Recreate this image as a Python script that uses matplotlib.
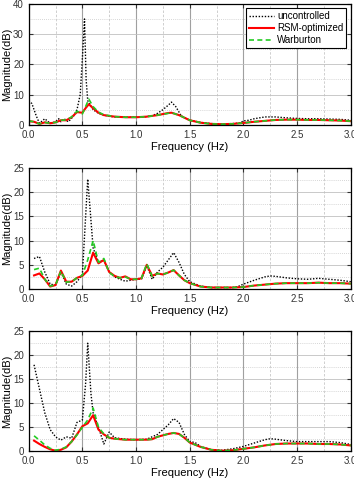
import numpy as np
import matplotlib
matplotlib.use("Agg")
import matplotlib.pyplot as plt
from matplotlib.ticker import MultipleLocator

plt.rcParams['font.family'] = ['Liberation Sans', 'DejaVu Sans']

# panel 1
f1_unc = [0.0, 0.03, 0.07, 0.1, 0.15, 0.2, 0.25, 0.28, 0.3, 0.33, 0.37, 0.42, 0.45, 0.48, 0.505, 0.52, 0.535,
          0.55, 0.6, 0.65, 0.7, 0.75, 0.8, 0.9, 1.0, 1.1, 1.15, 1.2, 1.25, 1.3, 1.33, 1.37, 1.42, 1.5, 1.55,
          1.6, 1.7, 1.8, 1.9, 1.97, 2.0, 2.05, 2.1, 2.2, 2.3, 2.4, 2.5, 2.6, 2.7, 2.8, 2.9, 3.0]
m1_unc = [8.0, 7.0, 3.0, 0.5, 2.0, 0.5, 1.0, 2.0, 1.0, 2.0, 1.0, 3.0, 5.0, 10.0, 25.0, 35.0, 15.0,
          8.0, 5.0, 3.8, 3.2, 2.8, 2.6, 2.5, 2.5, 2.7, 3.0, 3.8, 5.0, 6.5, 7.5, 6.0, 3.0, 1.5, 1.2,
          0.8, 0.4, 0.3, 0.4, 0.6, 1.3, 1.5, 2.0, 2.6, 2.6, 2.3, 2.1, 2.0, 2.0, 1.9, 1.8, 1.5]
f1 = [0.0, 0.05, 0.1, 0.15, 0.2, 0.25, 0.3, 0.35, 0.4, 0.45, 0.5, 0.53, 0.56, 0.6, 0.65, 0.7, 0.8, 0.9,
      1.0, 1.1, 1.2, 1.3, 1.33, 1.4, 1.5, 1.6, 1.7, 1.8, 1.9, 2.0, 2.1, 2.2, 2.3, 2.4, 2.5, 2.6, 2.7,
      2.8, 2.9, 3.0]
m1_rsm = [1.2, 1.0, 0.3, 0.8, 0.5, 0.8, 1.5, 1.5, 2.5, 4.2, 4.0, 5.5, 6.8, 5.5, 4.0, 3.2, 2.7, 2.5,
          2.5, 2.7, 3.2, 3.9, 4.0, 3.2, 1.5, 0.7, 0.3, 0.2, 0.3, 0.6, 1.0, 1.3, 1.6, 1.7, 1.7, 1.6, 1.6,
          1.5, 1.4, 1.2]
m1_war = [1.3, 1.0, 0.3, 0.8, 0.5, 0.8, 1.5, 1.6, 2.6, 4.5, 3.6, 6.0, 8.5, 6.0, 4.2, 3.3, 2.7, 2.5,
          2.5, 2.7, 3.2, 3.8, 4.0, 3.2, 1.5, 0.7, 0.3, 0.2, 0.3, 0.6, 1.0, 1.3, 1.6, 1.7, 1.7, 1.6, 1.6,
          1.5, 1.4, 1.2]

# panel 2
f2_unc = [0.05, 0.1, 0.15, 0.2, 0.25, 0.3, 0.35, 0.4, 0.45, 0.5, 0.55, 0.6, 0.65, 0.7, 0.75, 0.8, 0.85,
          0.9, 0.95, 1.0, 1.05, 1.1, 1.15, 1.2, 1.25, 1.3, 1.35, 1.4, 1.45, 1.5, 1.6, 1.7, 1.8, 1.9, 1.95,
          2.0, 2.1, 2.2, 2.25, 2.3, 2.4, 2.5, 2.6, 2.7, 2.8, 2.9, 3.0]
m2_unc = [6.3, 6.7, 3.5, 1.0, 0.8, 3.5, 1.0, 0.6, 1.5, 3.0, 22.7, 8.5, 5.5, 6.0, 3.5, 2.5, 2.0,
          1.6, 1.8, 2.0, 2.0, 4.8, 2.0, 3.5, 4.5, 6.0, 7.5, 5.5, 3.0, 1.5, 0.6, 0.3, 0.3, 0.3, 0.5,
          1.0, 1.8, 2.5, 2.7, 2.6, 2.3, 2.1, 2.0, 2.2, 2.0, 1.8, 1.5]
f2 = [0.05, 0.1, 0.15, 0.2, 0.25, 0.3, 0.35, 0.4, 0.45, 0.5, 0.55, 0.6, 0.65, 0.7, 0.75, 0.8, 0.85,
      0.9, 0.95, 1.0, 1.05, 1.1, 1.15, 1.2, 1.25, 1.3, 1.35, 1.4, 1.45, 1.5, 1.6, 1.7, 1.8, 1.9, 2.0,
      2.1, 2.2, 2.3, 2.4, 2.5, 2.6, 2.7, 2.8, 2.9, 3.0]
m2_rsm = [2.8, 3.2, 2.0, 0.5, 0.8, 3.8, 1.5, 1.5, 2.3, 2.7, 3.8, 7.5, 5.3, 6.0, 3.5, 2.7, 2.3,
          2.6, 2.0, 2.0, 2.2, 5.0, 2.7, 3.2, 3.0, 3.4, 3.9, 2.8, 1.8, 1.2, 0.5, 0.3, 0.3, 0.3, 0.4,
          0.7, 0.9, 1.1, 1.2, 1.2, 1.2, 1.3, 1.2, 1.2, 1.1]
m2_war = [4.0, 4.3, 2.0, 0.6, 0.8, 3.7, 1.4, 1.5, 2.3, 2.8, 6.0, 10.0, 5.5, 6.3, 3.4, 2.6, 2.3,
          2.5, 2.0, 2.0, 2.2, 5.2, 2.6, 3.2, 3.0, 3.4, 3.9, 2.8, 1.8, 1.2, 0.5, 0.3, 0.3, 0.3, 0.4,
          0.7, 0.9, 1.1, 1.2, 1.2, 1.2, 1.3, 1.2, 1.2, 1.1]

# panel 3
f3_unc = [0.05, 0.1, 0.15, 0.2, 0.25, 0.3, 0.35, 0.4, 0.45, 0.5, 0.53, 0.55, 0.58, 0.6, 0.65, 0.7, 0.75,
          0.8, 0.9, 1.0, 1.1, 1.2, 1.25, 1.3, 1.35, 1.4, 1.45, 1.5, 1.55, 1.6, 1.7, 1.8, 1.9, 2.0, 2.1,
          2.2, 2.25, 2.3, 2.4, 2.5, 2.6, 2.7, 2.8, 2.9, 3.0]
m3_unc = [18.0, 13.0, 8.0, 4.5, 3.0, 2.3, 3.0, 2.7, 6.0, 6.5, 14.0, 22.5, 12.0, 8.0, 5.0, 1.5, 4.0,
          2.8, 2.5, 2.4, 2.5, 3.5, 4.5, 5.5, 6.8, 6.0, 3.5, 2.0, 1.8, 1.0, 0.3, 0.2, 0.5, 1.0, 1.7,
          2.4, 2.6, 2.5, 2.2, 2.0, 2.0, 2.0, 2.0, 1.8, 1.4]
f3 = [0.05, 0.1, 0.15, 0.2, 0.25, 0.3, 0.35, 0.4, 0.45, 0.5, 0.55, 0.6, 0.65, 0.7, 0.75, 0.8, 0.9,
      1.0, 1.1, 1.15, 1.2, 1.3, 1.35, 1.4, 1.45, 1.5, 1.6, 1.7, 1.8, 1.9, 2.0, 2.1, 2.2, 2.3, 2.4,
      2.5, 2.6, 2.7, 2.8, 2.9, 3.0]
m3_rsm = [2.2, 1.5, 0.9, 0.4, 0.1, 0.3, 0.8, 2.0, 3.5, 5.2, 5.8, 7.5, 4.5, 3.5, 2.8, 2.6, 2.4,
          2.4, 2.4, 2.5, 3.0, 3.6, 3.8, 3.6, 2.8, 1.8, 0.9, 0.3, 0.1, 0.2, 0.5, 0.8, 1.2, 1.5, 1.6,
          1.6, 1.6, 1.5, 1.5, 1.4, 1.2]
m3_war = [3.2, 2.3, 1.3, 0.6, 0.2, 0.4, 0.9, 2.0, 3.4, 5.0, 6.5, 9.0, 5.0, 3.6, 2.8, 2.6, 2.4,
          2.4, 2.4, 2.5, 3.0, 3.6, 3.8, 3.6, 2.8, 1.8, 0.9, 0.3, 0.1, 0.2, 0.5, 0.8, 1.2, 1.5, 1.6,
          1.6, 1.6, 1.5, 1.5, 1.4, 1.2]

panels = [
    (f1_unc, m1_unc, f1, m1_rsm, m1_war, 40, 10, 5, [0.740, 0.252]),
    (f2_unc, m2_unc, f2, m2_rsm, m2_war, 25, 5, 2.5, [0.398, 0.252]),
    (f3_unc, m3_unc, f3, m3_rsm, m3_war, 25, 5, 2.5, [0.060, 0.250]),
]

fig = plt.figure(figsize=(3.54, 4.8), dpi=100)

for i, (fu, mu, fc, mr, mw, ymax, ymaj, ymin, (b, h)) in enumerate(panels):
    ax = fig.add_axes([0.081, b, 0.910, h])
    ax.plot(fu, mu, color='black', linestyle=(0, (1, 1.2)), lw=1.0, label='uncontrolled')
    ax.plot(fc, mr, color='red', lw=1.5, label='RSM-optimized')
    ax.plot(fc, mw, color='#22cc22', linestyle=(0, (3, 2)), lw=1.2, label='Warburton')
    ax.set_xlim(0, 3)
    ax.set_ylim(0, ymax)
    ax.xaxis.set_major_locator(MultipleLocator(0.5))
    ax.xaxis.set_minor_locator(MultipleLocator(0.25))
    ax.yaxis.set_major_locator(MultipleLocator(ymaj))
    ax.yaxis.set_minor_locator(MultipleLocator(ymin))
    ax.grid(True, which='major', axis='x', color='#a0a0a0', lw=0.8, ls='-')
    ax.grid(True, which='minor', axis='x', color='#c8c8c8', lw=0.6, ls=(0, (3, 2)))
    ax.grid(True, which='major', axis='y', color='#c0c0c0', lw=0.6, ls='-')
    ax.grid(True, which='minor', axis='y', color='#c8c8c8', lw=0.6, ls=(0, (1, 1.5)))
    ax.set_axisbelow(True)
    ax.tick_params(which='both', direction='in', top=True, right=True, labelsize=7, colors='#333333')
    ax.tick_params(which='major', length=3)
    ax.tick_params(which='minor', length=0)
    ax.xaxis.set_major_formatter(plt.FormatStrFormatter('%.1f'))
    ax.set_xlabel('Frequency (Hz)', fontsize=8, labelpad=1.5)
    ax.set_ylabel('Magnitude(dB)', fontsize=8, labelpad=1)
    for s in ax.spines.values():
        s.set_linewidth(0.9)
    if i == 0:
        leg = ax.legend(loc='upper right', fontsize=7, frameon=True, fancybox=False,
                        edgecolor='black', framealpha=1, handlelength=2.6, handletextpad=0.3,
                        borderpad=0.3, labelspacing=0.2, borderaxespad=0.45)
        leg.get_frame().set_linewidth(0.8)

fig.savefig('out.png', dpi=100)
